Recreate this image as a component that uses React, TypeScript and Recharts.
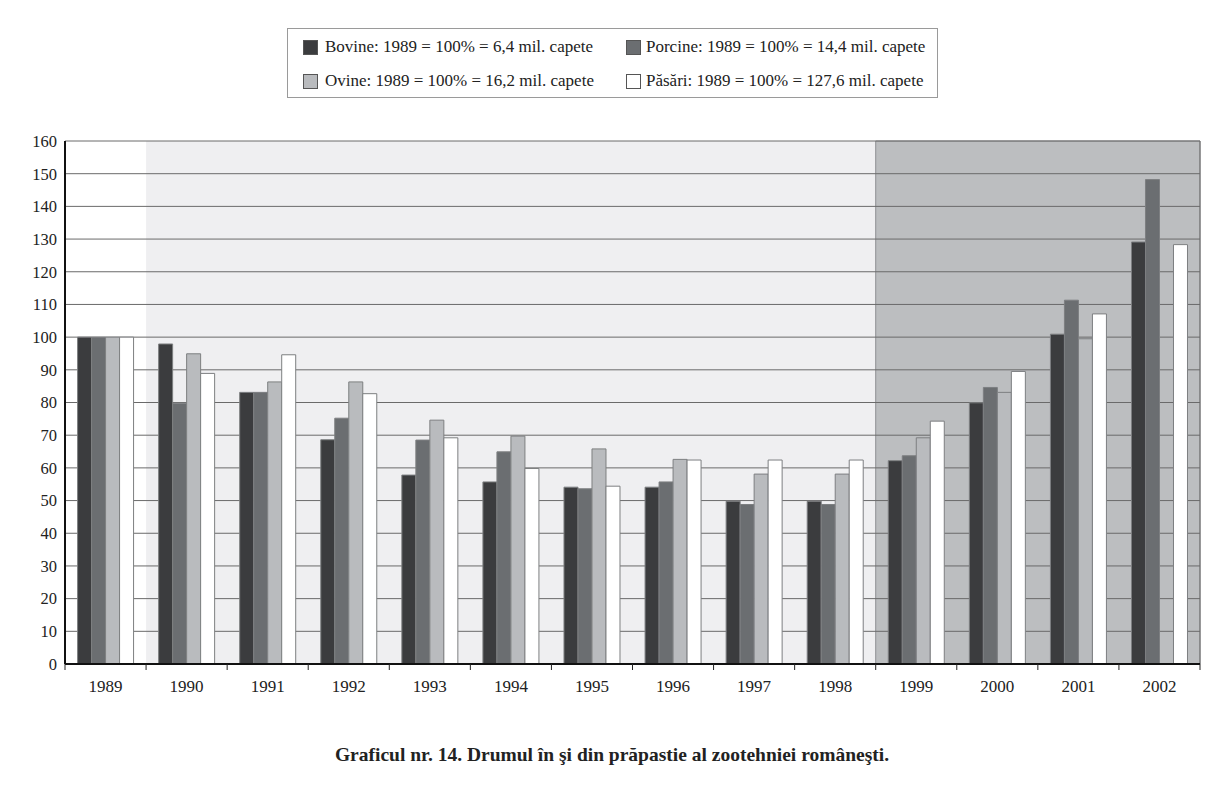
import {
  BarChart,
  Bar,
  XAxis,
  YAxis,
  CartesianGrid,
  ReferenceArea,
} from 'recharts';

const years = ['1989', '1990', '1991', '1992', '1993', '1994', '1995', '1996', '1997', '1998', '1999', '2000', '2001', '2002'];
const bovine = [100, 97.9, 83.1, 68.6, 57.8, 55.7, 54.1, 54.1, 49.8, 49.8, 62.2, 79.9, 100.9, 129.1];
const porcine = [100, 79.8, 83.1, 75.2, 68.5, 64.9, 53.6, 55.7, 48.8, 48.8, 63.7, 84.6, 111.3, 148.2];
const ovine = [100, 94.9, 86.3, 86.3, 74.6, 69.7, 65.8, 62.6, 58.1, 58.1, 69.2, 83.1, 99.5, null];
const pasari = [100, 88.9, 94.6, 82.7, 69.2, 59.8, 54.4, 62.4, 62.4, 62.4, 74.3, 89.5, 107.1, 128.3];
const yTicks = [0, 10, 20, 30, 40, 50, 60, 70, 80, 90, 100, 110, 120, 130, 140, 150, 160];

const series = [
  { key: 'bovine', label: 'Bovine: 1989 = 100% = 6,4 mil. capete', color: '#3b3c3e' },
  { key: 'porcine', label: 'Porcine: 1989 = 100% = 14,4 mil. capete', color: '#6b6e71' },
  { key: 'ovine', label: 'Ovine: 1989 = 100% = 16,2 mil. capete', color: '#b9bbbe' },
  { key: 'pasari', label: 'Păsări: 1989 = 100% = 127,6 mil. capete', color: '#ffffff' },
];

const data = years.map((year, i) => ({
  year,
  bovine: bovine[i],
  porcine: porcine[i],
  ovine: ovine[i],
  pasari: pasari[i],
}));

const W = 1224;
const H = 788;
const margin = { top: 141, right: 24, left: 0, bottom: 84 };
const Y_AXIS_W = 65;
const plotW = W - margin.left - margin.right - Y_AXIS_W;
const halfBand = plotW / years.length / 2;

const serif = '"Liberation Serif", "DejaVu Serif", serif';

function YearTick(props: any) {
  const { x, y, payload, index } = props;
  const axisY = y - 8;
  return (
    <g>
      <line x1={x - halfBand} y1={axisY} x2={x - halfBand} y2={axisY + 6} stroke="#222" />
      {index === years.length - 1 && (
        <line x1={x + halfBand} y1={axisY} x2={x + halfBand} y2={axisY + 6} stroke="#222" />
      )}
      <text
        x={x}
        y={y + 20}
        textAnchor="middle"
        style={{ fontFamily: serif, fontSize: 17 }}
        fill="#222"
      >
        {payload.value}
      </text>
    </g>
  );
}

function LegendBox() {
  return (
    <div
      style={{
        position: 'absolute',
        left: 287,
        top: 28,
        width: 651,
        height: 70,
        border: '1px solid #9a9a9a',
        boxSizing: 'border-box',
        fontFamily: serif,
        fontSize: 17,
        color: '#222',
      }}
    >
      {series.map((s, i) => (
        <div
          key={s.key}
          style={{
            position: 'absolute',
            left: i % 2 === 0 ? 15 : 338,
            top: i < 2 ? 8 : 42,
            display: 'flex',
            alignItems: 'center',
            whiteSpace: 'nowrap',
          }}
        >
          <span
            style={{
              display: 'inline-block',
              width: 13,
              height: 13,
              background: s.color,
              border: '1px solid #555',
              marginRight: i % 2 === 0 ? 7 : 5,
            }}
          />
          {s.label}
        </div>
      ))}
    </div>
  );
}

export default function App() {
  return (
    <div style={{ position: 'absolute', left: 0, top: 0, width: W, height: H, background: '#fff' }}>
      <LegendBox />
      <BarChart
        width={W}
        height={H}
        data={data}
        margin={margin}
        barCategoryGap="15.5%"
        barGap={0}
        style={{ fontFamily: serif }}
      >
        <ReferenceArea x1="1990" x2="1998" fill="#efeff1" fillOpacity={1} stroke="none" zIndex={-200} />
        <ReferenceArea x1="1999" x2="2002" fill="#bcbec0" fillOpacity={1} stroke="#8e9092" zIndex={-200} />
        <CartesianGrid
          stroke="#6a6a6a"
          verticalCoordinatesGenerator={({ offset }: any) => [offset.left + offset.width]}
        />
        <XAxis
          dataKey="year"
          axisLine={{ stroke: '#111', strokeWidth: 2 }}
          tickLine={false}
          tick={<YearTick />}
          interval={0}
          height={40}
        />
        <YAxis
          width={Y_AXIS_W}
          domain={[0, 160]}
          ticks={yTicks}
          interval={0}
          axisLine={{ stroke: '#111', strokeWidth: 2 }}
          tickLine={false}
          tick={{ fontFamily: serif, fontSize: 16.5, fill: '#222' }}
        />
        {series.map((s) => (
          <Bar
            key={s.key}
            dataKey={s.key}
            name={s.label}
            fill={s.color}
            stroke="#7d7f81"
            strokeWidth={1}
            isAnimationActive={false}
          />
        ))}
      </BarChart>
      <div
        style={{
          position: 'absolute',
          left: 0,
          top: 744,
          width: W,
          textAlign: 'center',
          fontFamily: serif,
          fontWeight: 'bold',
          fontSize: 19.5,
          color: '#222',
        }}
      >
        Graficul nr. 14. Drumul în şi din prăpastie al zootehniei româneşti.
      </div>
    </div>
  );
}
